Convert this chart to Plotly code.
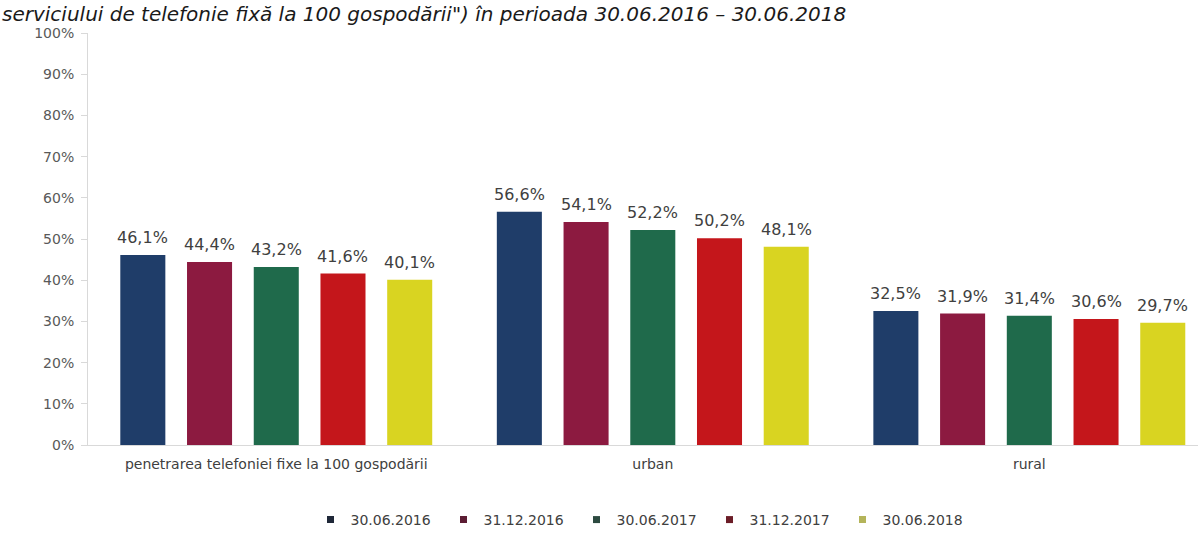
import plotly.graph_objects as go

# ---------------- data ----------------
categories = ["penetrarea telefoniei fixe la 100 gospodării", "urban", "rural"]
series_names = ["30.06.2016", "31.12.2016", "30.06.2017", "31.12.2017", "30.06.2018"]
val_30_06_2016 = [46.1, 56.6, 32.5]
val_31_12_2016 = [44.4, 54.1, 31.9]
val_30_06_2017 = [43.2, 52.2, 31.4]
val_31_12_2017 = [41.6, 50.2, 30.6]
val_30_06_2018 = [40.1, 48.1, 29.7]
y_tick_values = [0, 10, 20, 30, 40, 50, 60, 70, 80, 90, 100]
y_tick_labels = ["0%", "10%", "20%", "30%", "40%", "50%",
                 "60%", "70%", "80%", "90%", "100%"]
title_text = ("serviciului de telefonie fixă la 100 gospodării\") "
              "în perioada 30.06.2016 \u2013 30.06.2018")

series_values = [val_30_06_2016, val_31_12_2016, val_30_06_2017,
                 val_31_12_2017, val_30_06_2018]

# ---------------- styles ----------------
bar_colors = ["#1f3d69", "#8c1a40", "#1f6a4b", "#c4161b", "#d9d421"]
legend_colors = ["#1f2838", "#5c1d34", "#2c4a40", "#6b1d27", "#b4b45a"]
FONT = "DejaVu Sans"
TXT = "#404040"
BARGAP = 0.114
BARGROUPGAP = 0.325
LABEL_SHIFT = 6

fig = go.Figure()

for name, vals, col in zip(series_names, series_values, bar_colors):
    fig.add_trace(go.Bar(
        x=categories, y=vals, name=name,
        marker=dict(color=col, line=dict(width=0)),
        showlegend=False, hoverinfo="x+y+name",
    ))

# legend-only entries with small square swatches
for name, col in zip(series_names, legend_colors):
    fig.add_trace(go.Scatter(
        x=[None], y=[None], mode="markers", name=name,
        marker=dict(symbol="square", size=7, color=col),
        showlegend=True,
    ))

# data labels above each bar (positioned at the bar-slot centres of the group)
n_series = len(series_values)
slot = (1 - BARGAP) / n_series
annotations = []
for j, vals in enumerate(series_values):
    for i, v in enumerate(vals):
        annotations.append(dict(
            x=i + (j - (n_series - 1) / 2) * slot, y=v,
            xref="x", yref="y",
            text=f"{v:.1f}%".replace(".", ","),
            xanchor="center", yanchor="bottom", yshift=LABEL_SHIFT,
            showarrow=False,
            font=dict(family=FONT, size=16, color=TXT),
        ))

annotations.append(dict(
    text=title_text, xref="paper", yref="paper",
    x=-88 / 1110, y=1, xanchor="left", yanchor="top",
    yshift=33, showarrow=False,
    font=dict(family=FONT, size=20, color="#1a1a1a", style="italic"),
))

fig.update_layout(
    width=1198, height=558,
    margin=dict(l=88, r=0, t=33, b=113),
    paper_bgcolor="white", plot_bgcolor="white",
    separators=",.",
    barmode="group", bargap=BARGAP, bargroupgap=BARGROUPGAP,
    font=dict(family=FONT, color=TXT),
    legend=dict(
        orientation="h", x=0.5, xanchor="center", y=-0.182, yanchor="middle",
        font=dict(family=FONT, size=14, color=TXT),
        entrywidth=88, entrywidthmode="pixels",
        itemwidth=30, bgcolor="rgba(0,0,0,0)",
    ),
    annotations=annotations,
)

fig.update_xaxes(
    type="category", range=[-0.5, 2.448],
    showline=True, linecolor="#d9d9d9", linewidth=1,
    ticks="", showgrid=False, zeroline=False,
    tickfont=dict(family=FONT, size=14, color=TXT),
    ticklabelstandoff=6,
)
fig.update_yaxes(
    range=[0, 100], tickvals=y_tick_values, ticktext=y_tick_labels,
    showline=True, linecolor="#d9d9d9", linewidth=1,
    ticks="outside", ticklen=6, tickcolor="#d9d9d9",
    showgrid=False, zeroline=False,
    tickfont=dict(family=FONT, size=14, color="#595959"),
    ticklabelstandoff=4,
)

fig.write_html(
    "out.html",
    config={"displayModeBar": False},
    post_script="document.body.style.margin='0px';",
)
